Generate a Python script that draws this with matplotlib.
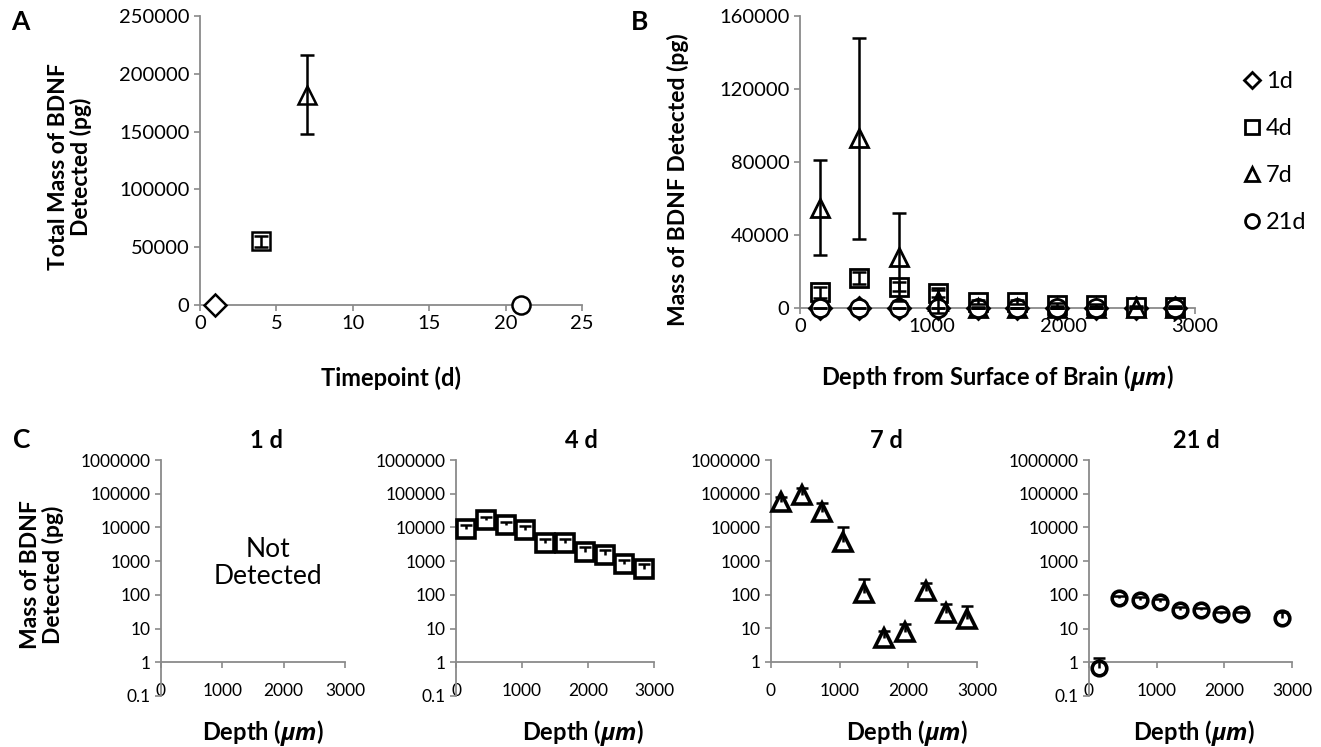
import numpy as np
import matplotlib
matplotlib.use('Agg')
import matplotlib.pyplot as plt
from matplotlib.lines import Line2D
from matplotlib.ticker import FixedLocator, NullLocator

plt.rcParams['font.family'] = ['Lato', 'DejaVu Sans']
plt.rcParams['mathtext.fontset'] = 'custom'
plt.rcParams['mathtext.it'] = 'Open Sans:italic:bold'
plt.rcParams['mathtext.rm'] = 'Lato:bold'

# ---- data ----
labels = ['1d', '4d', '7d', '21d']
markers = ['D', 's', '^', 'o']

# panel A: total mass per timepoint
timepoints = [1, 4, 7, 21]
total_mass = [0, 55000, 182000, 430]
total_err = [0, 5000, 34000, 0]

# panel B / C: mass per depth slice
depth = [150, 450, 750, 1050, 1350, 1650, 1950, 2250, 2550, 2850]
mass_1d = [0, 0, 0, 0, 0, 0, 0, 0, 0, 0]
mass_4d = [8700, 16500, 11700, 8300, 3400, 3400, 1900, 1500, 800, 600]
err_4d = [3000, 3500, 2500, 2500, 1200, 1200, 700, 600, 300, 250]
mass_7d = [55000, 93000, 28000, 3700, 110, 5, 7.8, 130, 29, 19]
err_7d = [26000, 55000, 24000, 6300, 190, 3.3, 6, 90, 25, 26]
mass_21d = [0.7, 78, 72, 62, 36, 35, 27, 27, np.nan, 21]
err_21d = [0.6, 12, 12, 12, 8, 6, 5, 5, np.nan, 9]

log_ticks = [0.1, 1, 10, 100, 1000, 10000, 100000, 1000000]
log_labels = ['0.1', '1', '10', '100', '1000', '10000', '100000', '1000000']

W, H = 1321, 747
gray = '#8a8a8a'


def rect(l, t, r, b):
    return [l / W, 1 - b / H, (r - l) / W, (b - t) / H]


def fx(x):
    return x / W


def fy(y):
    return 1 - y / H


def style(ax, fs):
    for s in ['top', 'right']:
        ax.spines[s].set_visible(False)
    for s in ['left', 'bottom']:
        ax.spines[s].set_color(gray)
        ax.spines[s].set_linewidth(1.3)
    ax.tick_params(colors=gray, labelcolor='black', labelsize=fs, length=4, width=1.2)


fig = plt.figure(figsize=(13.21, 7.47), dpi=100)

# ---- panel A ----
axA = fig.add_axes(rect(200, 16, 582, 305))
style(axA, 14.5)
for t, m, e, mk in zip(timepoints, total_mass, total_err, markers):
    axA.plot(t, m, marker=mk, ms=13 if mk != 'D' else 11, mfc='white', mec='black',
             mew=1.8, ls='none', clip_on=False, zorder=3)
    if e:
        axA.errorbar(t, m, yerr=e, fmt='none', ecolor='black', elinewidth=1.8,
                     capsize=5, capthick=1.8, zorder=4)
axA.set_xlim(0, 25)
axA.set_ylim(0, 250000)
axA.set_xticks(range(0, 26, 5))
axA.set_yticks(range(0, 250001, 50000))

# ---- panel B ----
axB = fig.add_axes(rect(800, 16, 1195, 308))
style(axB, 14.5)
series = [(mass_1d, None), (mass_4d, err_4d), (mass_7d, err_7d), (mass_21d, err_21d)]
handles = []
for (vals, errs), mk, lab in zip(series, markers, labels):
    axB.plot(depth, vals, marker=mk, ms=13 if mk != 'D' else 11, mfc='white', mec='black',
             mew=2, ls='none', clip_on=False, zorder=3)
    if errs is not None:
        axB.errorbar(depth, vals, yerr=errs, fmt='none', ecolor='black', elinewidth=1.8,
                     capsize=5, capthick=1.8, zorder=4, clip_on=False)
    handles.append(Line2D([], [], marker=mk, ms=10 if mk != 'D' else 8, mfc='white',
                          mec='black', mew=2, ls='none', label=lab))
axB.set_xlim(0, 3000)
axB.set_ylim(0, 160000)
axB.set_xticks([0, 1000, 2000, 3000])
axB.set_yticks([0, 40000, 80000, 120000, 160000])

fig.legend(handles=handles, loc='upper left', bbox_to_anchor=(fx(1234), fy(62)),
           frameon=False, fontsize=17, handlelength=0.7, handletextpad=0.25,
           labelspacing=1.1, borderaxespad=0)

# ---- panel C ----
c_rects = [rect(161, 460, 345, 696), rect(456, 460, 654, 696),
           rect(771, 460, 977, 662), rect(1089, 460, 1292, 696)]
c_data = [(None, None), (mass_4d, err_4d), (mass_7d, err_7d), (mass_21d, err_21d)]
c_ms = [13, 13.5, 13, 10.5]
titles = ['1 d', '4 d', '7 d', '21 d']
title_x = [267, 581, 886, 1196]
depth_x = [263, 583, 907, 1194]

for i, (r, (vals, errs), mk) in enumerate(zip(c_rects, c_data, markers)):
    ax = fig.add_axes(r)
    style(ax, 12.5)
    ax.set_yscale('log')
    if i == 2:
        ax.set_ylim(1, 1e6)
        ax.yaxis.set_major_locator(FixedLocator(log_ticks[1:]))
        ax.set_yticklabels(log_labels[1:])
    else:
        ax.set_ylim(0.1, 1e6)
        ax.spines['bottom'].set_position(('data', 1))
        ax.yaxis.set_major_locator(FixedLocator(log_ticks))
        ax.set_yticklabels(log_labels)
    ax.yaxis.set_minor_locator(NullLocator())
    ax.set_xlim(0, 3000)
    ax.set_xticks([0, 1000, 2000, 3000])
    ax.tick_params(axis='x', pad=11)
    if vals is not None:
        v = np.array(vals, dtype=float)
        e = np.array(errs, dtype=float)
        ax.plot(depth, v, marker=mk, ms=c_ms[i], mfc='white', mec='black',
                mew=2.6, ls='none', clip_on=False, zorder=3)
        # plus-only error bars: stem from the point up to a cap
        ax.vlines(depth, v, v + e, colors='black', lw=1.8, zorder=4, clip_on=False)
        ax.plot(depth, v + e, marker='_', ms=8, mew=1.8, color='black', ls='none',
                zorder=4, clip_on=False)
    fig.text(fx(title_x[i]), fy(441), titles[i], ha='center', va='center',
             fontsize=17, fontweight='bold')
    fig.text(fx(depth_x[i]), fy(733), r'Depth ($\mu m$)', ha='center', va='center',
             fontsize=17, fontweight='bold')

fig.text(fx(268), fy(563), 'Not\nDetected', ha='center', va='center', fontsize=19,
         linespacing=1.1)

# ---- labels ----
fig.text(fx(391), fy(378), 'Timepoint (d)', ha='center', va='center', fontsize=17,
         fontweight='bold')
fig.text(fx(997), fy(378), r'Depth from Surface of Brain ($\mu m$)', ha='center',
         va='center', fontsize=17, fontweight='bold')
fig.text(fx(70), fy(167), 'Total Mass of BDNF\nDetected (pg)', ha='center', va='center',
         rotation=90, fontsize=16.5, fontweight='bold', linespacing=1.05)
fig.text(fx(678), fy(180), 'Mass of BDNF Detected (pg)', ha='center', va='center',
         rotation=90, fontsize=16.5, fontweight='bold')
fig.text(fx(42), fy(575), 'Mass of BDNF\nDetected (pg)', ha='center', va='center',
         rotation=90, fontsize=16.5, fontweight='bold', linespacing=1.05)

fig.text(fx(20), fy(22), 'A', ha='center', va='center', fontsize=19, fontweight='bold')
fig.text(fx(640), fy(22), 'B', ha='center', va='center', fontsize=19, fontweight='bold')
fig.text(fx(22), fy(440), 'C', ha='center', va='center', fontsize=19, fontweight='bold')

fig.savefig('out.png', dpi=100)
